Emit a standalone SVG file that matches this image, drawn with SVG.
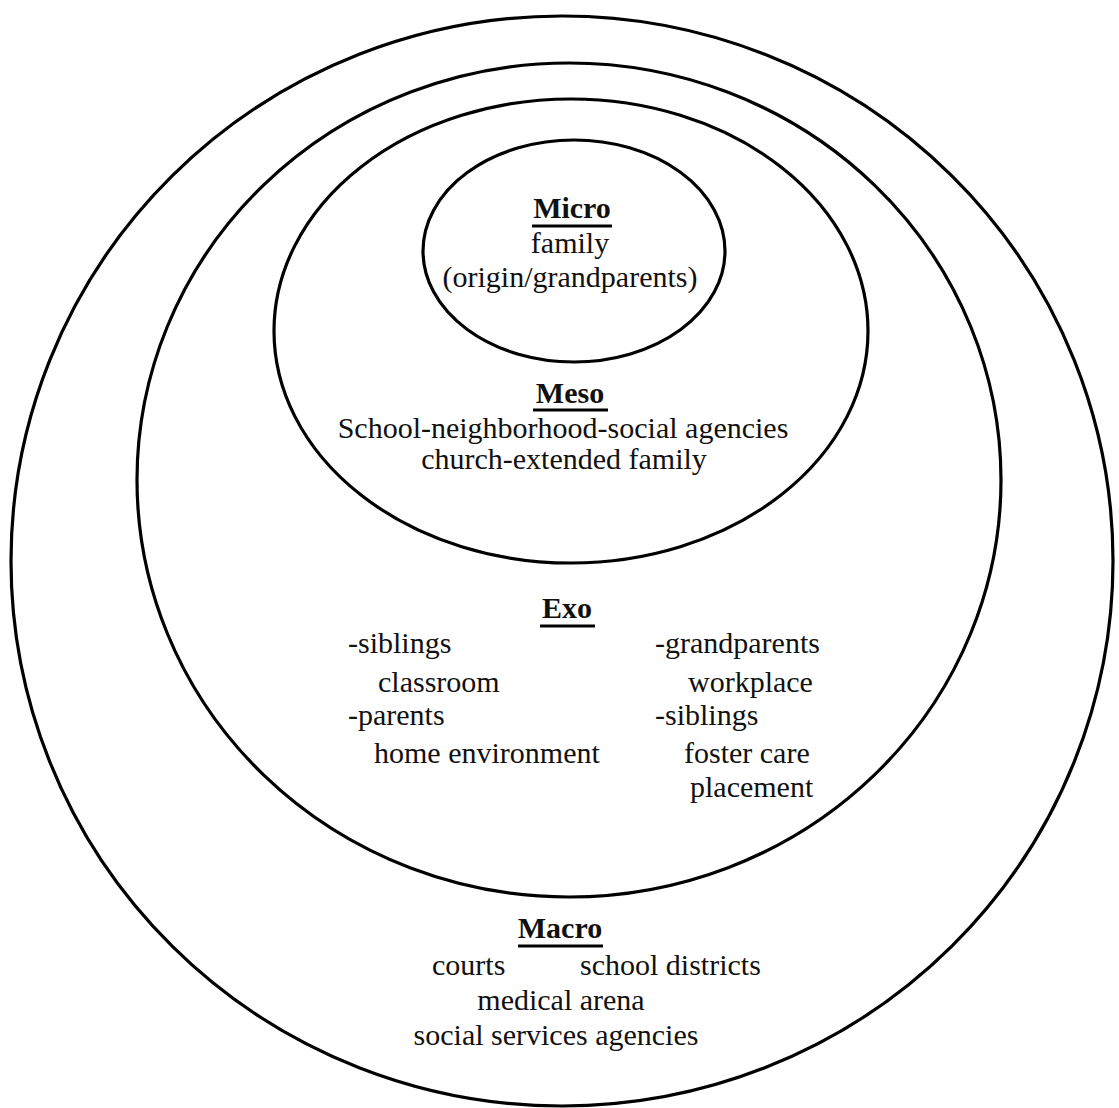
<svg xmlns="http://www.w3.org/2000/svg" width="1119" height="1108" viewBox="0 0 1119 1108">
<style>
.ring{fill:none;stroke:#000;stroke-width:3.2}
.t{font-family:"Liberation Serif","Times New Roman",serif;font-size:30px;fill:#111}
.h{font-weight:bold;text-anchor:middle}
.c{text-anchor:middle}
.ul{stroke:#000;stroke-width:3}
</style>
<rect width="1119" height="1108" fill="#fff"/>
<g id="macro">
<ellipse class="ring" cx="562" cy="561" rx="551" ry="545"/>
<text class="t h" x="560" y="938">Macro</text>
<line class="ul" x1="518" y1="946" x2="603" y2="946"/>
<text class="t" x="432" y="975">courts</text>
<text class="t" x="580" y="975">school districts</text>
<text class="t c" x="561" y="1010">medical arena</text>
<text class="t c" x="556" y="1045">social services agencies</text>
</g>
<g id="exo">
<ellipse class="ring" cx="569" cy="480" rx="432" ry="417"/>
<text class="t h" x="567" y="618">Exo</text>
<line class="ul" x1="540" y1="626" x2="595" y2="626"/>
<text class="t" x="348" y="653">-siblings</text>
<text class="t" x="378" y="692">classroom</text>
<text class="t" x="348" y="725">-parents</text>
<text class="t" x="374" y="763">home environment</text>
<text class="t" x="655" y="653">-grandparents</text>
<text class="t" x="688" y="692">workplace</text>
<text class="t" x="655" y="725">-siblings</text>
<text class="t" x="684" y="763">foster care</text>
<text class="t" x="690" y="797">placement</text>
</g>
<g id="meso">
<ellipse class="ring" cx="571" cy="331" rx="297" ry="232"/>
<text class="t h" x="570" y="403">Meso</text>
<line class="ul" x1="533" y1="410" x2="608" y2="410"/>
<text class="t c" x="563" y="438">School-neighborhood-social agencies</text>
<text class="t c" x="564" y="469">church-extended family</text>
</g>
<g id="micro">
<ellipse class="ring" cx="574" cy="251" rx="151" ry="111"/>
<text class="t h" x="572" y="218">Micro</text>
<line class="ul" x1="532" y1="226" x2="612" y2="226"/>
<text class="t c" x="570" y="253">family</text>
<text class="t c" x="570" y="287">(origin/grandparents)</text>
</g>
<g id="connectors"/>
</svg>
